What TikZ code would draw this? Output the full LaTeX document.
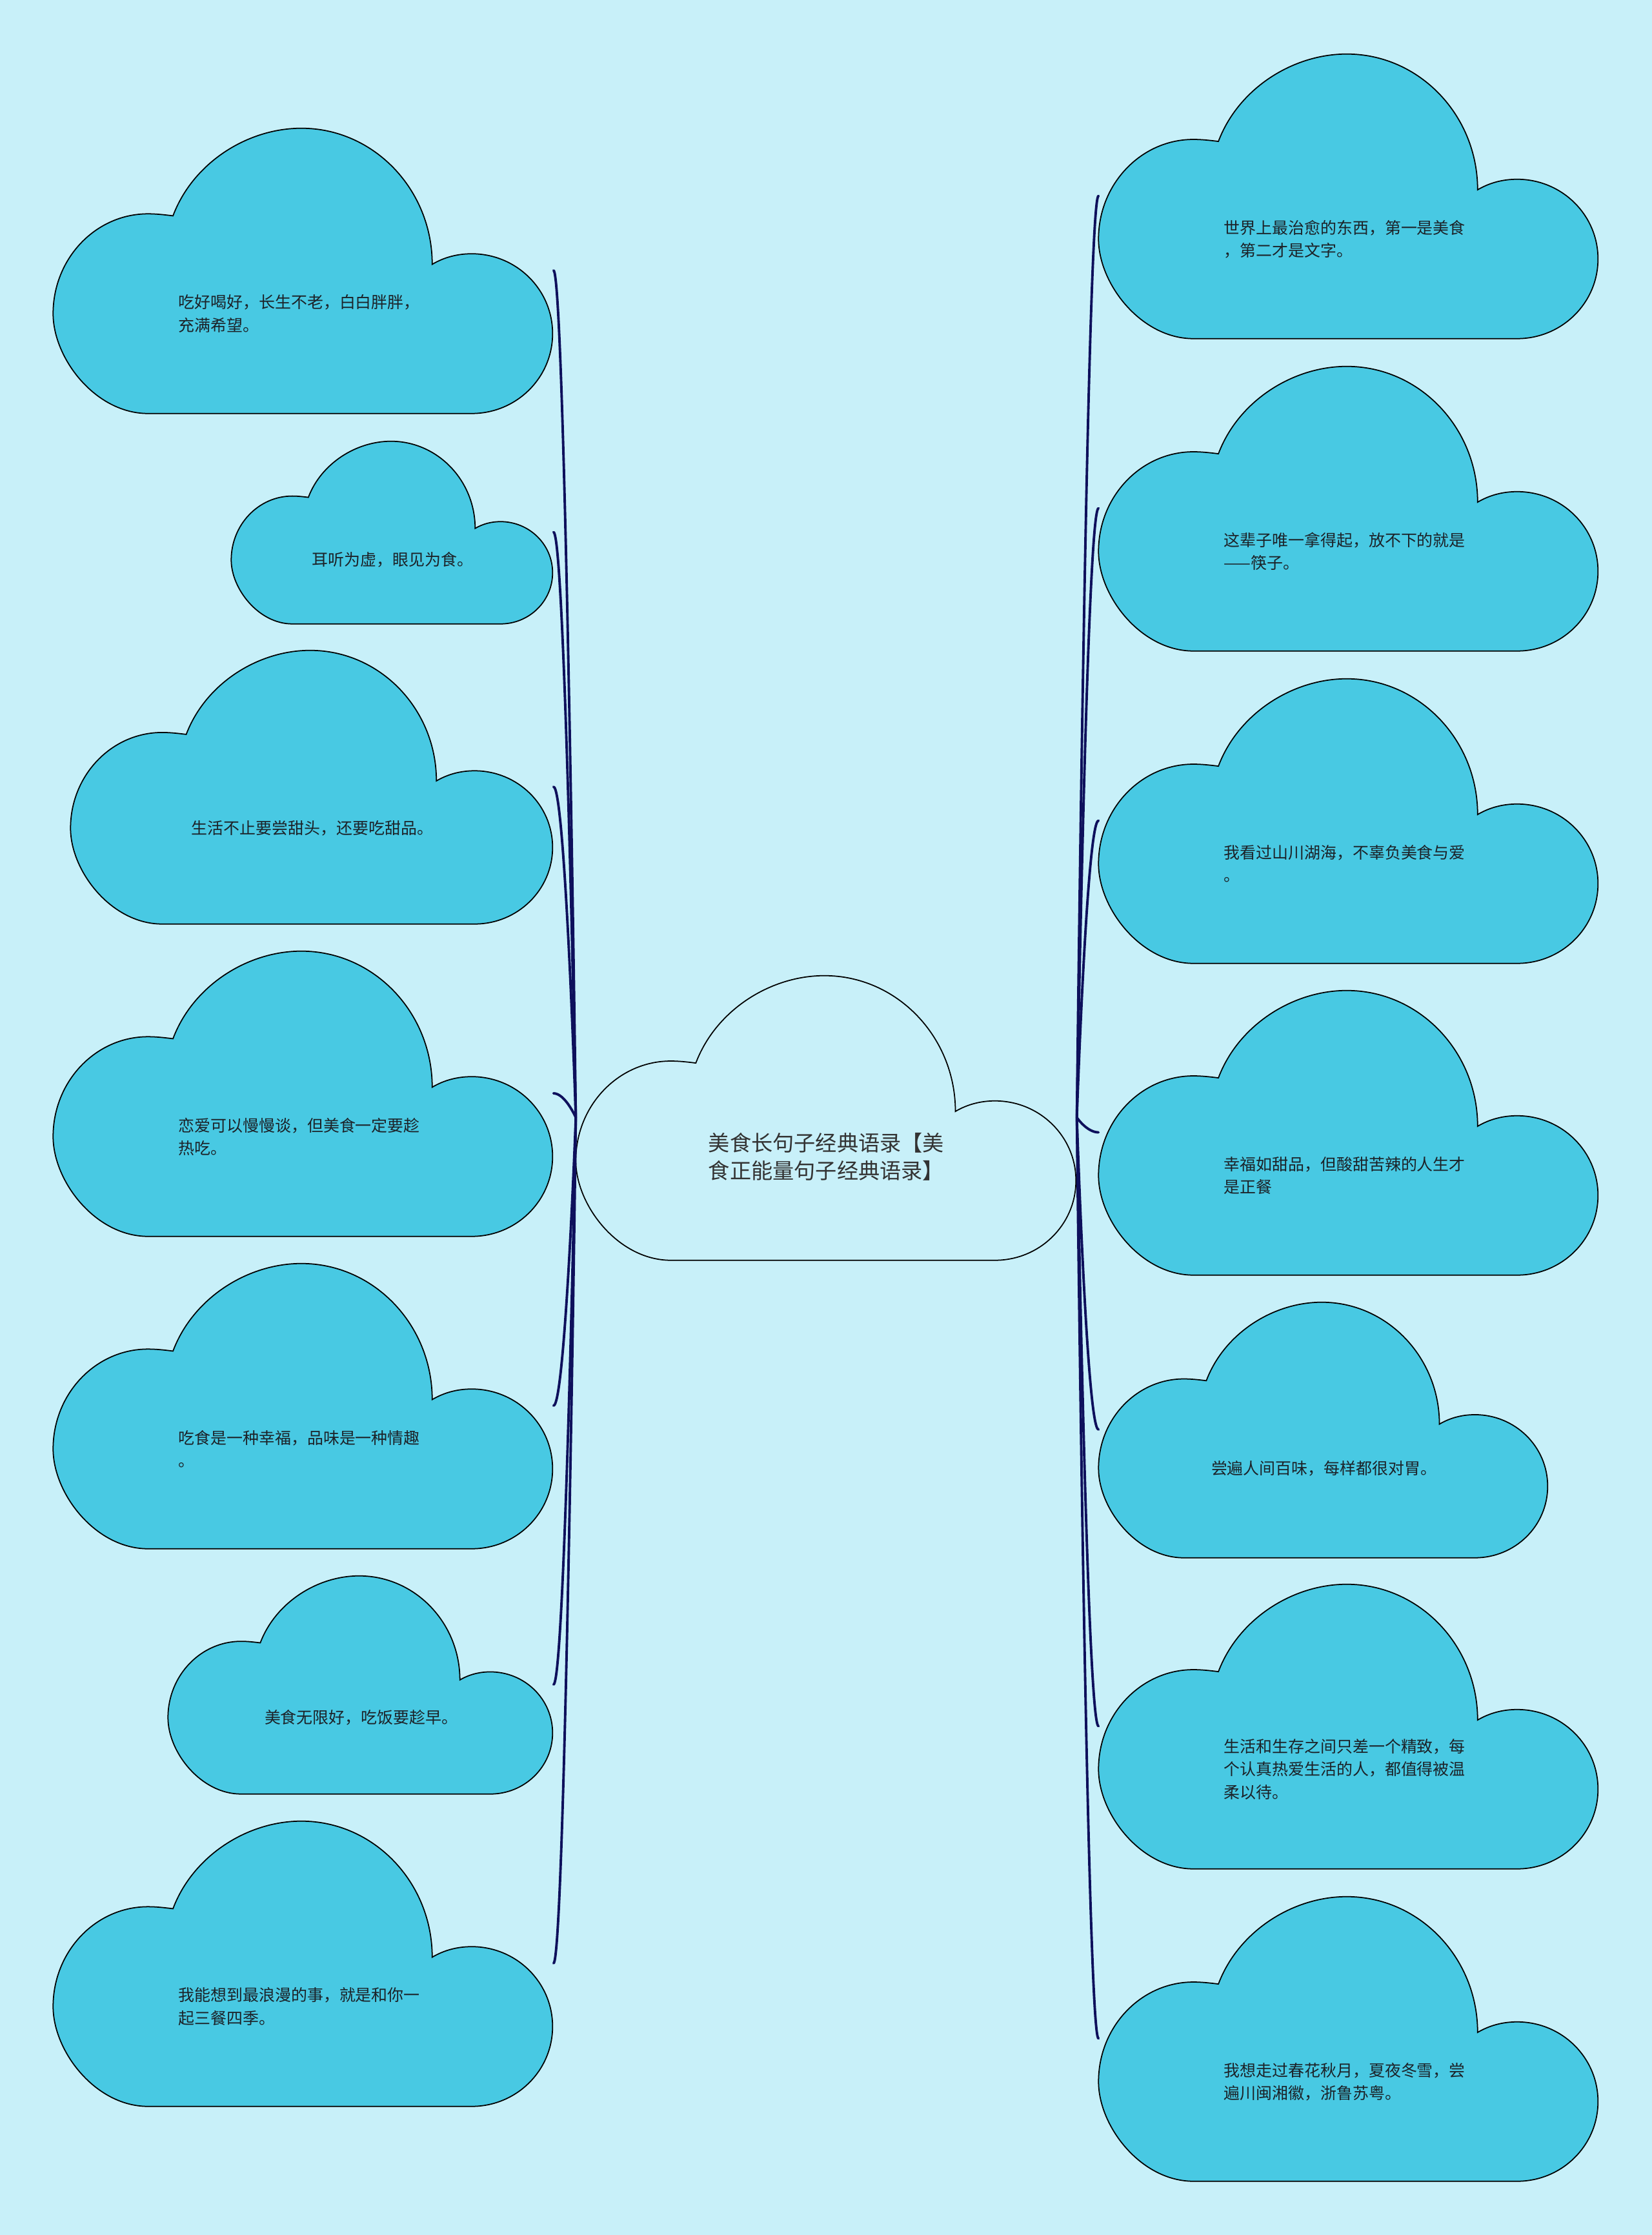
\documentclass[tikz,border=0pt]{standalone}
\usepackage{fontspec}
\newfontfamily\cjkfont{Noto Sans CJK SC}
\usetikzlibrary{calc}
\definecolor{BgCyan}{RGB}{200,240,249}
\definecolor{LeafBlue}{RGB}{72,201,227}
\definecolor{LineNavy}{RGB}{14,16,92}
\definecolor{TextDark}{RGB}{28,34,40}
\definecolor{HubText}{RGB}{51,51,51}

% cloud outline in a unit box (0,0)--(1,1), y pointing up
% #1 node name, #2 width, #3 height, #4 fill
\newcommand{\cloudshape}[4]{%
  \begin{scope}[shift={(#1.south west)}, x=#2cm, y=#3cm]
    \draw[cloudline, fill=#4]
      (0.19,0) .. controls (0.085,0) and (0,0.193) .. (0,0.35)
      .. controls (0,0.543) and (0.085,0.70) .. (0.19,0.70)
      .. controls (0.206,0.70) and (0.222,0.697) .. (0.24,0.693)
      .. controls (0.28,0.879) and (0.389,1) .. (0.497,1)
      .. controls (0.642,1) and (0.759,0.785) .. (0.759,0.523)
      .. controls (0.783,0.548) and (0.81,0.56) .. (0.838,0.56)
      .. controls (0.9275,0.56) and (1,0.435) .. (1,0.28)
      .. controls (1,0.125) and (0.9275,0) .. (0.838,0)
      -- cycle;
  \end{scope}}

% leaf cloud: #1 name, #2 x, #3 y, #4 width, #5 height, #6 text
\newcommand{\leafcloud}[6]{%
  \node[box, minimum width=#4cm, minimum height=#5cm] (#1) at (#2,#3) {};
  \cloudshape{#1}{#4}{#5}{LeafBlue}
  \node[leaftext] (#1-t) at ($(#1.south west)+(0.25*#4,-0.35*#5)$) {#6};}

\begin{document}
\begin{tikzpicture}[x=1cm, y=-1cm,
    cloudline/.style={draw=black, line width=0.5pt},
    box/.style={rectangle, inner sep=0pt},
    leaftext/.style={font=\cjkfont\fontsize{7.1}{10}\selectfont, text=TextDark,
                     align=left, anchor=west, inner sep=0pt},
    hubtext/.style={font=\cjkfont\fontsize{9.45}{12.2}\selectfont, text=HubText,
                    align=left, inner sep=0pt},
    branch/.style={draw=LineNavy, line width=1.1pt, line cap=round}
  ]
  \path[fill=BgCyan, use as bounding box] (0,0) rectangle (25.6,34.63);

  % central topic
  \node[box, minimum width=7.75cm, minimum height=4.41cm] (hub) at (12.805,17.315) {};
  \cloudshape{hub}{7.75}{4.41}{BgCyan}
  \node[hubtext] (hub-t) at ($(hub.south)+(0,-1.605)$)
        {美食长句子经典语录【美\\食正能量句子经典语录】};

  % left side
  \leafcloud{l1}{4.70}{4.19}{7.74}{4.42}{吃好喝好，长生不老，白白胖胖，\\充满希望。}
  \leafcloud{l2}{6.08}{8.245}{4.98}{2.83}{耳听为虚，眼见为食。}
  \leafcloud{l3}{4.835}{12.19}{7.47}{4.24}{生活不止要尝甜头，还要吃甜品。}
  \leafcloud{l4}{4.70}{16.94}{7.74}{4.42}{恋爱可以慢慢谈，但美食一定要趁\\热吃。}
  \leafcloud{l5}{4.70}{21.78}{7.74}{4.42}{吃食是一种幸福，品味是一种情趣\\。}
  \leafcloud{l6}{5.59}{26.10}{5.96}{3.38}{美食无限好，吃饭要趁早。}
  \leafcloud{l7}{4.70}{30.42}{7.74}{4.42}{我能想到最浪漫的事，就是和你一\\起三餐四季。}

  % right side
  \leafcloud{r1}{20.90}{3.035}{7.74}{4.41}{世界上最治愈的东西，第一是美食\\，第二才是文字。}
  \leafcloud{r2}{20.90}{7.875}{7.74}{4.41}{这辈子唯一拿得起，放不下的就是\\——筷子。}
  \leafcloud{r3}{20.90}{12.715}{7.74}{4.41}{我看过山川湖海，不辜负美食与爱\\。}
  \leafcloud{r4}{20.90}{17.545}{7.74}{4.41}{幸福如甜品，但酸甜苦辣的人生才\\是正餐}
  \leafcloud{r5}{20.51}{22.15}{6.96}{3.96}{尝遍人间百味，每样都很对胃。}
  \leafcloud{r6}{20.90}{26.745}{7.74}{4.41}{生活和生存之间只差一个精致，每\\个认真热爱生活的人，都值得被温\\柔以待。}
  \leafcloud{r7}{20.90}{31.585}{7.74}{4.41}{我想走过春花秋月，夏夜冬雪，尝\\遍川闽湘徽，浙鲁苏粤。}

  % branches
  \foreach \nm in {l1,l2,l3,l4,l5,l6,l7}
    \draw[branch] (hub.west) .. controls (hub.west) and ($(\nm.east)+(0.18,0)$) .. (\nm.east);
  \foreach \nm in {r1,r2,r3,r4,r5,r6,r7}
    \draw[branch] (hub.east) .. controls (hub.east) and ($(\nm.west)+(-0.18,0)$) .. (\nm.west);
\end{tikzpicture}
\end{document}
